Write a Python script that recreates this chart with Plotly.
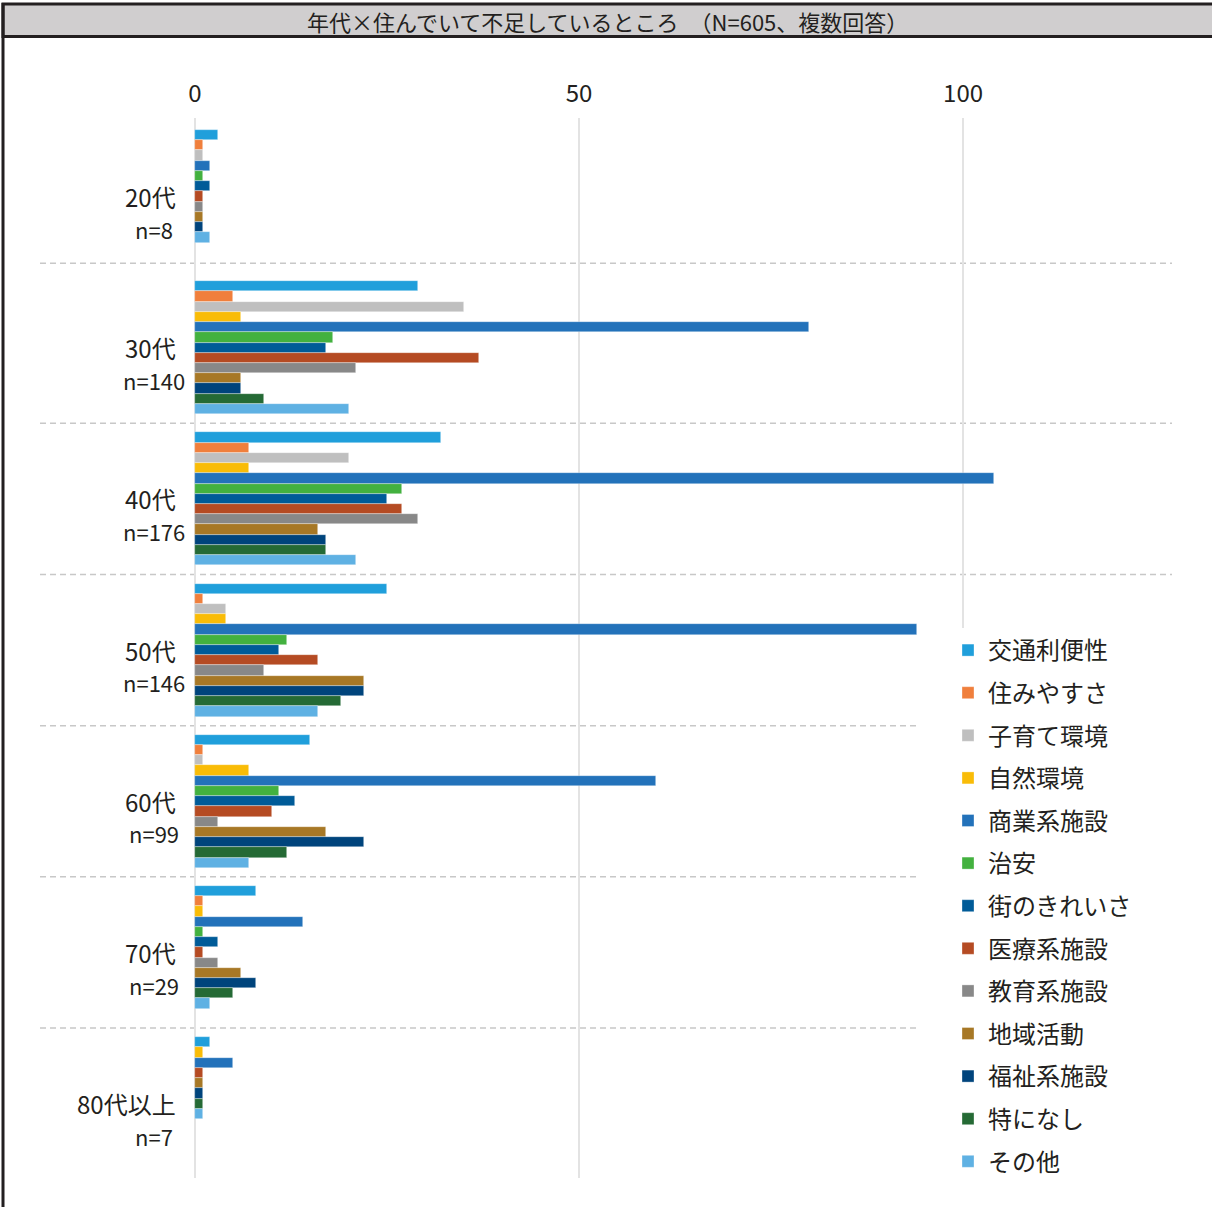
import plotly.graph_objects as go

# ---------------- data ----------------
groups = ["20代", "30代", "40代", "50代", "60代", "70代", "80代以上"]
n_labels = ["n=8", "n=140", "n=176", "n=146", "n=99", "n=29", "n=7"]

series = ["交通利便性", "住みやすさ", "子育て環境", "自然環境", "商業系施設", "治安",
          "街のきれいさ", "医療系施設", "教育系施設", "地域活動", "福祉系施設", "特になし", "その他"]

v_kotsu    = [3, 29, 32, 25, 15, 8, 2]
v_sumi     = [1, 5, 7, 1, 1, 1, 0]
v_kosodate = [1, 35, 20, 4, 1, 0, 0]
v_shizen   = [0, 6, 7, 4, 7, 1, 1]
v_shogyo   = [2, 80, 104, 94, 60, 14, 5]
v_chian    = [1, 18, 27, 12, 11, 1, 0]
v_machi    = [2, 17, 25, 11, 13, 3, 0]
v_iryo     = [1, 37, 27, 16, 10, 1, 1]
v_kyoiku   = [1, 21, 29, 9, 3, 3, 0]
v_chiiki   = [1, 6, 16, 22, 17, 6, 1]
v_fukushi  = [1, 6, 17, 22, 22, 8, 1]
v_nashi    = [0, 9, 17, 19, 12, 5, 1]
v_sonota   = [2, 20, 21, 16, 7, 2, 1]

values = [v_kotsu, v_sumi, v_kosodate, v_shizen, v_shogyo, v_chian, v_machi,
          v_iryo, v_kyoiku, v_chiiki, v_fukushi, v_nashi, v_sonota]

colors = ["#209FDB", "#F07F3C", "#BFBFBF", "#F9BC07", "#2372BA", "#43B13F", "#005B98",
          "#B54B23", "#888888", "#A77826", "#00447C", "#256A35", "#5FB1E3"]

# ---------------- layout constants ----------------
W, H = 1212, 1207
ML, MR, MT, MB = 40, 40, 118, 29
GROUP_GAP = 1.78                     # gap between groups, in bar slots
PITCH = len(series) + GROUP_GAP      # one group = 13 slots + gap
Y_TOP, Y_BOT = -1.17, 102.45
X_MIN, X_MAX = -20.18, 127.2
DARK = "#231F20"
NUM_FONT = "Noto Sans CJK JP, sans-serif"
JP_FONT = "Noto Sans CJK JP, sans-serif"

plot_w = W - ML - MR
plot_h = H - MT - MB


def px_to_paper_x(px):
    return (px - ML) / plot_w


def px_to_paper_y(py):
    return 1 - (py - MT) / plot_h


# packed positions: zero-value bars are removed and the rest packed to the group top
positions = [[None] * len(groups) for _ in series]
for g in range(len(groups)):
    k = 0
    for s in range(len(series)):
        if values[s][g] > 0:
            positions[s][g] = g * PITCH + k + 0.5
            k += 1

fig = go.Figure()
for s, name in enumerate(series):
    xs = [values[s][g] for g in range(len(groups)) if values[s][g] > 0]
    ys = [positions[s][g] for g in range(len(groups)) if values[s][g] > 0]
    fig.add_trace(go.Bar(
        x=xs, y=ys, orientation="h", name=name, width=1.0,
        marker=dict(color=colors[s], line=dict(width=0.6, color="rgba(255,255,255,0.55)")),
        legendgroup=name, hoverinfo="x+name",
    ))

shapes = []
# dashed separators between groups
for g in range(len(groups) - 1):
    yy = g * PITCH + len(series) + GROUP_GAP / 2
    if g == 0:
        yy -= 0.85
    shapes.append(dict(type="line", xref="paper", yref="y", x0=0, x1=1, y0=yy, y1=yy,
                       line=dict(color="#C8C8C8", width=1.5, dash="6px,4px"), layer="below"))
# white box behind legend
shapes.append(dict(type="rect", xref="paper", yref="paper",
                   x0=px_to_paper_x(920), x1=px_to_paper_x(W + 5),
                   y0=px_to_paper_y(H + 5), y1=px_to_paper_y(628),
                   fillcolor="white", line=dict(width=0), layer="above"))
# title bar
shapes.append(dict(type="rect", xref="paper", yref="paper",
                   x0=px_to_paper_x(3), x1=px_to_paper_x(W + 5),
                   y0=px_to_paper_y(36.5), y1=px_to_paper_y(4),
                   fillcolor="#D0CECF", line=dict(color=DARK, width=3), layer="above"))
# left border
shapes.append(dict(type="line", xref="paper", yref="paper",
                   x0=px_to_paper_x(3), x1=px_to_paper_x(3),
                   y0=px_to_paper_y(H + 5), y1=px_to_paper_y(3),
                   line=dict(color=DARK, width=3), layer="above"))

annotations = [dict(
    text="年代×住んでいて不足しているところ　（N=605、複数回答）",
    xref="paper", yref="paper", x=px_to_paper_x(607), y=px_to_paper_y(21),
    xanchor="center", yanchor="middle", showarrow=False,
    font=dict(family=JP_FONT, size=22, color=DARK),
)]
for g in range(len(groups)):
    yc = g * PITCH + len(series) / 2
    annotations.append(dict(text=groups[g], xref="x", yref="y", x=-2.25, y=yc,
                            xanchor="right", yanchor="middle", showarrow=False,
                            font=dict(family=NUM_FONT, size=24, color=DARK)))
    annotations.append(dict(text=n_labels[g], xref="x", yref="y", x=-5.4, y=yc + 3.15,
                            xanchor="center", yanchor="middle", showarrow=False,
                            font=dict(family=NUM_FONT, size=22, color=DARK)))

fig.update_layout(
    width=W, height=H,
    margin=dict(l=ML, r=MR, t=MT, b=MB),
    paper_bgcolor="white", plot_bgcolor="white",
    barmode="overlay", bargap=0,
    showlegend=True,
    legend=dict(x=px_to_paper_x(948), y=px_to_paper_y(628), xanchor="left", yanchor="top",
                traceorder="grouped", tracegroupgap=8.4, bgcolor="rgba(0,0,0,0)",
                font=dict(family=JP_FONT, size=24, color=DARK)),
    xaxis=dict(range=[X_MIN, X_MAX], side="top", tickvals=[0, 50, 100],
               showgrid=True, gridcolor="#E3E3E3", gridwidth=2, zeroline=False,
               showline=False, ticks="", ticklabelstandoff=10,
               tickfont=dict(family=NUM_FONT, size=24, color=DARK)),
    yaxis=dict(range=[Y_BOT, Y_TOP], showgrid=False, zeroline=False, showline=False,
               showticklabels=False, ticks=""),
    shapes=shapes, annotations=annotations,
)

fig.write_html("out.html", config={"displayModeBar": False},
               post_script="document.body.style.margin='0';")
